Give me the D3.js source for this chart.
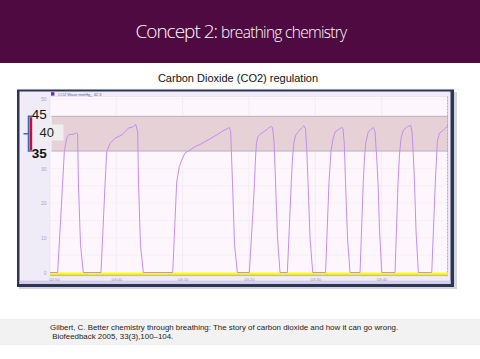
<!DOCTYPE html>
<html>
  <head>
    <meta charset="utf-8">
    <title>Concept 2: breathing chemistry</title>
    <script src="https://d3js.org/d3.v7.min.js"></script>
  </head>

  <style>
    body {
      margin: 0;
      background-color: white;
    }
    #chart svg {
      display: block;
    }
    .sans {
      font-family: 'Liberation Sans', Arial, sans-serif;
    }
  </style>

  <body>
    <div id="chart"></div>
    <script>

    // capnograph trace (time in s, CO2 in mmHg)
    var times = [
      170.00, 171.16, 171.88, 172.16, 172.52, 172.86, 173.47, 174.00, 174.16, 174.28, 174.60, 175.02,
      177.69, 178.29, 178.55, 179.05, 179.80, 180.81, 181.31, 181.80, 182.56, 182.92, 183.22, 183.34, 183.64, 184.07,
      188.50, 189.10, 189.49, 189.86, 190.35, 191.11, 191.86, 192.61, 193.37, 194.12, 194.62, 195.13, 195.89, 196.38, 196.88, 197.06, 197.24, 197.51, 197.82, 198.24,
      200.05, 200.61, 200.83, 200.98, 201.13, 201.36, 201.66, 202.41, 202.91, 203.32, 203.54, 203.77, 204.00, 204.30, 204.68,
      205.78, 206.38, 206.56, 206.79, 207.04, 207.43, 207.95, 208.29, 208.52, 208.72, 208.90, 209.20, 209.61,
      211.54, 212.06, 212.36, 212.67, 212.97, 213.57, 213.98, 214.17, 214.37, 214.55, 214.85, 215.23,
      216.74, 217.23, 217.41, 217.64, 217.99, 218.50, 218.77, 219.00, 219.22, 219.45, 219.68, 220.01,
      222.01, 222.47, 222.69, 222.92, 223.26, 223.87, 224.38, 224.58, 224.77, 224.95, 225.18, 225.53,
      227.55, 228.09, 228.39, 228.69, 229.29, 229.81, 230.00
    ];
    var co2 = [
      0, 0, 25, 34.8, 38.7, 39.8, 39.8, 40.2, 40, 26, 8, 0,
      0, 25, 34.8, 37.2, 38.7, 39.6, 40.6, 41.6, 42.0, 42.7, 40.5, 26, 8, 0,
      0, 26, 30.5, 32.4, 34.4, 35.3, 36.3, 36.9, 37.7, 38.5, 39.1, 39.6, 40.6, 41.1, 41.6, 41.8, 40.5, 26, 8, 0,
      0, 18, 26, 33, 37.5, 39.2, 39.8, 40.8, 41.6, 42.1, 41.8, 38, 26, 10, 0,
      0, 26, 33, 37.7, 39.6, 40.6, 41.7, 42.3, 41.5, 35, 26, 10, 0,
      0, 26, 35, 38.5, 40.5, 41.3, 41.8, 41.5, 37, 26, 10, 0,
      0, 26, 33, 37.7, 40.6, 41.4, 41.8, 40.5, 34, 26, 12, 0,
      0, 26, 34, 38.7, 41, 42, 42.4, 40.5, 34, 26, 12, 0,
      0, 26, 37.7, 40.1, 41, 42, 42.5
    ];

    // the 40 tick sits under the callout box, so it is left out
    var yTicks = [0, 10, 20, 30, 50];
    var gridValues = [5, 10, 15, 20, 25, 30, 35, 40, 45, 50];
    var xTickValues = [170.6, 180, 190, 200, 210, 220];
    var xTickLabels = ['02:50', '03:00', '03:10', '03:20', '03:30', '03:40'];
    var targetBand = [35, 45];
    var calloutLabels = ['45', '40', '35'];
    var citation = [
      'Gilbert, C. Better chemistry through breathing: The story of carbon dioxide and how it can go wrong.',
      ' Biofeedback 2005, 33(3),100\u2013104.'
    ];

    var width = 480, height = 359;
    var plot = { left: 50, right: 448, top: 96.5, bottom: 276 };

    var xScale = d3.scaleLinear()
      .domain([170, 230])
      .range([plot.left, plot.right]);

    var yScale = d3.scaleLinear()
      .domain([0, 50])
      .range([272.5, 99]);

    var svg = d3.select('#chart').append('svg')
      .attr('width', width)
      .attr('height', height);

    // header band
    svg.append('rect')
      .attr('width', width).attr('height', 63)
      .attr('fill', '#4f0a42');

    var title = svg.append('text')
      .attr('x', 241).attr('y', 37.5)
      .attr('text-anchor', 'middle')
      .attr('fill', 'white')
      .style('font-family', "'Open Sans', sans-serif")
      .style('font-weight', 300);
    title.append('tspan')
      .style('font-size', '19px')
      .style('letter-spacing', '-1px')
      .text('Concept 2: ');
    title.append('tspan')
      .style('font-size', '15.5px')
      .style('letter-spacing', '-0.7px')
      .text('breathing chemistry');

    svg.append('text')
      .attr('class', 'sans')
      .attr('x', 238).attr('y', 81.5)
      .attr('text-anchor', 'middle')
      .style('font-size', '11px')
      .attr('fill', '#111')
      .text('Carbon Dioxide (CO2) regulation');

    svg.append('line')
      .attr('x1', 20).attr('x2', 460)
      .attr('y1', 89.2).attr('y2', 89.2)
      .attr('stroke', '#f0f0f0');

    // window frame (shadow, dark border, lavender panel)
    svg.append('rect')
      .attr('x', 19).attr('y', 92)
      .attr('width', 438).attr('height', 197)
      .attr('fill', '#d4d6dc');
    svg.append('rect')
      .attr('x', 17).attr('y', 89.5)
      .attr('width', 437).attr('height', 197.5)
      .attr('fill', '#2c3654');
    svg.append('rect')
      .attr('x', 19.5).attr('y', 91.5)
      .attr('width', 431).attr('height', 192.5)
      .attr('fill', '#efecf8');
    svg.append('rect')
      .attr('x', 19.5).attr('y', 280.5)
      .attr('width', 431).attr('height', 3.5)
      .attr('fill', '#d6cdea');

    // plot background
    svg.append('rect')
      .attr('x', plot.left).attr('y', plot.top)
      .attr('width', plot.right - plot.left)
      .attr('height', plot.bottom - plot.top)
      .attr('fill', '#fdf7fd')
      .attr('stroke', '#ddd6ea')
      .attr('stroke-width', 0.5);

    // window caption
    svg.append('rect')
      .attr('x', 51).attr('y', 92.2)
      .attr('width', 3.4).attr('height', 3.4)
      .attr('fill', '#6a2cb0');
    svg.append('text')
      .attr('class', 'sans')
      .attr('x', 58).attr('y', 95.6)
      .style('font-size', '4px')
      .attr('fill', '#6a6090')
      .text('CO2 Wave mmHg_  42.3');

    // grid
    svg.append('g').selectAll('line')
      .data(gridValues)
      .enter().append('line')
      .attr('x1', plot.left).attr('x2', plot.right)
      .attr('y1', function(d){ return yScale(d); })
      .attr('y2', function(d){ return yScale(d); })
      .attr('stroke', '#f1e9f1')
      .attr('stroke-width', 0.6);
    svg.append('g').selectAll('line')
      .data(xTickValues.slice(1))
      .enter().append('line')
      .attr('x1', function(d){ return xScale(d); })
      .attr('x2', function(d){ return xScale(d); })
      .attr('y1', plot.top).attr('y2', yScale(0))
      .attr('stroke', '#ece4ee')
      .attr('stroke-width', 0.6);

    // target band 35-45 mmHg
    svg.append('rect')
      .attr('x', plot.left + 1.5)
      .attr('y', yScale(targetBand[1]))
      .attr('width', plot.right - plot.left - 1.5)
      .attr('height', yScale(targetBand[0]) - yScale(targetBand[1]))
      .attr('fill', '#e6d1d7');
    svg.append('g').selectAll('line')
      .data(targetBand)
      .enter().append('line')
      .attr('x1', plot.left + 1.5).attr('x2', plot.right)
      .attr('y1', function(d){ return yScale(d); })
      .attr('y2', function(d){ return yScale(d); })
      .attr('stroke', '#a9a8ba')
      .attr('stroke-width', 0.8);

    // yellow zero strip
    svg.append('rect')
      .attr('x', plot.left).attr('y', yScale(0))
      .attr('width', plot.right - plot.left).attr('height', 2.5)
      .attr('fill', '#ffff00');
    svg.append('line')
      .attr('x1', plot.left).attr('x2', plot.right)
      .attr('y1', yScale(0) + 2.8).attr('y2', yScale(0) + 2.8)
      .attr('stroke', '#9c9480').attr('stroke-width', 0.7);

    // y axis
    var yAxis = d3.axisLeft(yScale)
      .tickValues(yTicks)
      .tickSize(0)
      .tickPadding(3);
    var yGuide = svg.append('g')
      .attr('transform', 'translate(' + (plot.left - 0.5) + ',0)')
      .call(yAxis);
    yGuide.select('.domain').remove();
    yGuide.selectAll('text')
      .attr('class', 'sans')
      .style('font-size', '5px')
      .attr('fill', '#aaa3c6');

    // x axis
    var xAxis = d3.axisBottom(xScale)
      .tickValues(xTickValues)
      .tickFormat(function(d, i){ return xTickLabels[i]; })
      .tickSize(0)
      .tickPadding(2);
    var xGuide = svg.append('g')
      .attr('transform', 'translate(0,' + (yScale(0) + 3.5) + ')')
      .call(xAxis);
    xGuide.select('.domain').remove();
    xGuide.selectAll('text')
      .attr('class', 'sans')
      .style('font-size', '4.2px')
      .attr('fill', '#9a92b4');

    // CO2 trace
    var line = d3.line()
      .x(function(d){ return xScale(d); })
      .y(function(d, i){ return yScale(co2[i]); });
    svg.append('path')
      .datum(times)
      .attr('d', line)
      .attr('fill', 'none')
      .attr('stroke', '#c68cf2')
      .attr('stroke-width', 1)
      .attr('stroke-linejoin', 'round');

    // right edge marker
    svg.append('line')
      .attr('x1', plot.right - 0.5).attr('x2', plot.right - 0.5)
      .attr('y1', plot.top).attr('y2', yScale(0))
      .attr('stroke', '#d27fc6')
      .attr('stroke-width', 0.8)
      .attr('stroke-dasharray', '2,1');

    // callout of the 35-45 range
    svg.append('path')
      .attr('d', 'M32,' + yScale(45) + 'H28.5V' + yScale(35) + 'H32.5M23.5,' + yScale(40) + 'H28.5')
      .attr('fill', 'none')
      .attr('stroke', '#3b68b8')
      .attr('stroke-width', 1.6);
    svg.append('rect')
      .attr('x', 29.6).attr('y', yScale(45) + 1)
      .attr('width', 2.6)
      .attr('height', yScale(35) - yScale(45) - 2)
      .attr('fill', '#c8102e');
    svg.append('rect')
      .attr('x', 38.5).attr('y', 124.5)
      .attr('width', 25).attr('height', 16)
      .attr('fill', '#efefef');
    svg.append('text')
      .attr('class', 'sans')
      .attr('x', 31.8).attr('y', 118.6)
      .style('font-size', '13.5px')
      .attr('fill', '#111')
      .text(calloutLabels[0]);
    svg.append('text')
      .attr('class', 'sans')
      .attr('x', 39.6).attr('y', 137.2)
      .style('font-size', '13px')
      .attr('fill', '#222')
      .text(calloutLabels[1]);
    svg.append('text')
      .attr('class', 'sans')
      .attr('x', 31.8).attr('y', 157.8)
      .style('font-size', '13.5px')
      .style('font-weight', 'bold')
      .attr('fill', '#111')
      .text(calloutLabels[2]);

    // citation band
    svg.append('rect')
      .attr('x', 0).attr('y', 319)
      .attr('width', width).attr('height', 26)
      .attr('fill', '#f2f2f2');
    svg.append('g').selectAll('text')
      .data(citation)
      .enter().append('text')
      .attr('class', 'sans')
      .attr('x', 50)
      .attr('y', function(d, i){ return 329.5 + i * 9.8; })
      .style('font-size', '7.9px')
      .style('white-space', 'pre')
      .attr('fill', '#222')
      .text(function(d){ return d; });

    </script>
  </body>
</html>
